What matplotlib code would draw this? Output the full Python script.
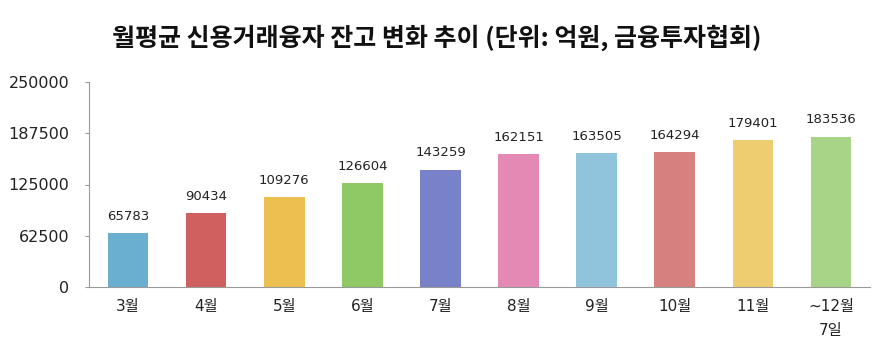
import matplotlib
matplotlib.use('Agg')
import matplotlib.pyplot as plt

plt.rcParams['font.family'] = ['DejaVu Sans', 'Noto Sans CJK KR']

months = ['3월', '4월', '5월', '6월', '7월', '8월', '9월', '10월', '11월', '~12월\n7일']
balances = [65783, 90434, 109276, 126604, 143259, 162151, 163505, 164294, 179401, 183536]
colors = ['#6bafd0', '#d0605f', '#ecc050', '#8ec966', '#7882c8',
          '#e488b4', '#90c4dc', '#d68080', '#eecd70', '#a7d486']
yticks = [0, 62500, 125000, 187500, 250000]

fig = plt.figure(figsize=(8.92, 3.52), dpi=100)
ax = fig.add_axes([89/892, 65/352, 781/892, 205/352])

x = range(len(months))
bars = ax.bar(x, balances, width=0.52, color=colors)
for i, v in enumerate(balances):
    ax.text(i, v + 12500, str(v), ha='center', va='bottom', fontsize=9.5, color='#222222')

ax.set_xlim(-0.5, len(months) - 0.5)
ax.set_ylim(0, 250000)
ax.set_yticks(yticks)
ax.set_yticklabels([str(t) for t in yticks], fontsize=11.5, color='#222222')
ax.set_xticks(list(x))
ax.set_xticklabels(months, fontsize=11, color='#222222', linespacing=1.75,
                   family=['DejaVu Sans', 'Noto Sans CJK KR'])
ax.tick_params(axis='x', length=0, pad=9)
ax.tick_params(axis='y', length=3, color='#999999', pad=11)

for s in ['top', 'right']:
    ax.spines[s].set_visible(False)
for s in ['left', 'bottom']:
    ax.spines[s].set_color('#999999')

fig.suptitle('월평균 신용거래융자 잔고 변화 추이 (단위: 억원, 금융투자협회)',
             x=437/892, y=1 - 38/352, va='center', fontsize=18, fontweight='bold',
             color='#111111', family=['Noto Sans CJK KR', 'DejaVu Sans'])

fig.savefig('out.png', dpi=100)
